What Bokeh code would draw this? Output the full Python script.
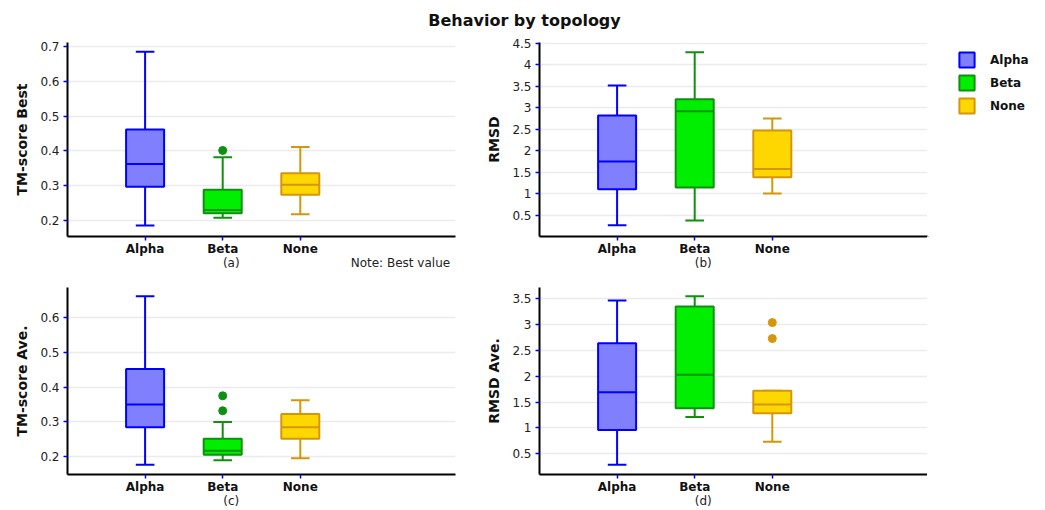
from bokeh.plotting import figure
from bokeh.layouts import column, row
from bokeh.models import (Label, FixedTicker, Legend, LegendItem, ColumnDataSource,
                          LinearAxis)
from bokeh.embed import file_html
from bokeh.resources import INLINE

# ---------------- data ----------------
categories = ["Alpha", "Beta", "None"]
fill_colors = ["#8080ff", "#00ee00", "#ffd700"]
line_colors = ["#0000ff", "#109010", "#d4960a"]

# (a) TM-score Best
a_low = [0.185, 0.207, 0.217]
a_q1 = [0.296, 0.220, 0.273]
a_med = [0.362, 0.229, 0.302]
a_q3 = [0.461, 0.288, 0.335]
a_high = [0.685, 0.381, 0.411]
a_out_cat = ["Beta"]
a_out_val = [0.401]
a_ticks = [0.2, 0.3, 0.4, 0.5, 0.6, 0.7]
a_tick_labels = ["0.2", "0.3", "0.4", "0.5", "0.6", "0.7"]

# (b) RMSD
b_low = [0.26, 0.37, 1.00]
b_q1 = [1.10, 1.14, 1.38]
b_med = [1.75, 2.92, 1.57]
b_q3 = [2.82, 3.20, 2.47]
b_high = [3.52, 4.29, 2.75]
b_out_cat = []
b_out_val = []
b_ticks = [0.5, 1, 1.5, 2, 2.5, 3, 3.5, 4, 4.5]
b_tick_labels = ["0.5", "1", "1.5", "2", "2.5", "3", "3.5", "4", "4.5"]

# (c) TM-score Ave.
c_low = [0.177, 0.190, 0.196]
c_q1 = [0.285, 0.206, 0.252]
c_med = [0.350, 0.217, 0.285]
c_q3 = [0.452, 0.252, 0.323]
c_high = [0.661, 0.300, 0.362]
c_out_cat = ["Beta", "Beta"]
c_out_val = [0.375, 0.332]
c_ticks = [0.2, 0.3, 0.4, 0.5, 0.6]
c_tick_labels = ["0.2", "0.3", "0.4", "0.5", "0.6"]

# (d) RMSD Ave.
d_low = [0.285, 1.21, 0.73]
d_q1 = [0.96, 1.38, 1.28]
d_med = [1.69, 2.03, 1.45]
d_q3 = [2.64, 3.35, 1.72]
d_high = [3.47, 3.55, 1.72]
d_out_cat = ["None", "None"]
d_out_val = [3.04, 2.73]
d_ticks = [0.5, 1, 1.5, 2, 2.5, 3, 3.5]
d_tick_labels = ["0.5", "1", "1.5", "2", "2.5", "3", "3.5"]

FONT = "DejaVu Sans"
BOX_W = 0.49
CAP_W = 0.24
SUB_X = 2.11      # position of the "(a)".."(d)" captions (x data units)
NOTE_X = 4.29     # centre of the "Note" caption (x data units)


def make_panel(ylabel, low, q1, med, q3, high, out_cat, out_val, yrange,
               ticks, tick_labels, width, height, border_left, border_top,
               border_bottom, border_right, sublabel, note=None):
    xs = [i + 1 for i in range(len(categories))]
    src = ColumnDataSource(dict(
        x=xs, low=low, q1=q1, med=med, q3=q3, high=high,
        left=[x - BOX_W / 2 for x in xs], right=[x + BOX_W / 2 for x in xs],
        cl=[x - CAP_W / 2 for x in xs], cr=[x + CAP_W / 2 for x in xs],
        fill=fill_colors, line=line_colors,
    ))
    p = figure(width=width, height=height, x_range=(0, 5), y_range=yrange,
               toolbar_location=None, output_backend="svg", title=None,
               min_border_left=border_left, min_border_right=border_right,
               min_border_top=border_top, min_border_bottom=border_bottom)
    p.outline_line_color = None
    p.xgrid.visible = False
    p.ygrid.grid_line_color = "#ebebeb"
    p.ygrid.grid_line_width = 1.5
    p.ygrid.ticker = FixedTicker(ticks=ticks)

    p.xaxis.ticker = FixedTicker(ticks=xs)
    p.xaxis.major_label_overrides = {x: c for x, c in zip(xs, categories)}
    p.yaxis.ticker = FixedTicker(ticks=ticks)
    p.yaxis.major_label_overrides = {t: l for t, l in zip(ticks, tick_labels)}

    for ax in (p.xaxis[0], p.yaxis[0]):
        ax.axis_line_color = "black"
        ax.axis_line_width = 2
        ax.major_tick_line_color = "blue"
        ax.major_tick_line_width = 1.5
        ax.major_tick_in = 0
        ax.major_tick_out = 4
        ax.minor_tick_line_color = None
        ax.major_label_text_font = FONT
        ax.major_label_standoff = 4
    p.xaxis.major_label_text_font_style = "bold"
    p.xaxis.major_label_text_font_size = "12px"
    p.xaxis.major_label_text_color = "#111111"
    p.xaxis.major_label_standoff = 1
    p.yaxis.major_label_text_font_size = "12px"
    p.yaxis.major_label_text_color = "#222222"
    p.yaxis.axis_label = ylabel
    p.yaxis.axis_label_text_font = FONT
    p.yaxis.axis_label_text_font_style = "bold"
    p.yaxis.axis_label_text_font_size = "14px"
    p.yaxis.axis_label_text_color = "#111111"
    p.yaxis.axis_label_standoff = 7

    # caption axis: "(a)" etc. and the optional note
    cap_ticks = [SUB_X] + ([NOTE_X] if note else [])
    cap_labels = [sublabel] + ([note] if note else [])
    cap = LinearAxis(ticker=FixedTicker(ticks=cap_ticks),
                     major_label_overrides={t: l for t, l in zip(cap_ticks, cap_labels)},
                     axis_line_color=None, major_tick_line_color=None,
                     minor_tick_line_color=None, major_tick_in=0, major_tick_out=0,
                     major_label_standoff=-3, major_label_text_font=FONT,
                     major_label_text_font_size="12px",
                     major_label_text_color="#222222")
    p.add_layout(cap, "below")

    # whiskers
    p.segment(x0="x", y0="q3", x1="x", y1="high", line_color="line", line_width=2, source=src)
    p.segment(x0="x", y0="low", x1="x", y1="q1", line_color="line", line_width=2, source=src)
    p.segment(x0="cl", y0="high", x1="cr", y1="high", line_color="line", line_width=2, source=src)
    p.segment(x0="cl", y0="low", x1="cr", y1="low", line_color="line", line_width=2, source=src)
    # boxes
    p.vbar(x="x", width=BOX_W, bottom="q1", top="q3", fill_color="fill",
           line_color="line", line_width=2, source=src)
    # medians
    p.segment(x0="left", y0="med", x1="right", y1="med", line_color="line", line_width=2, source=src)
    # outliers
    if out_val:
        ox = [categories.index(c) + 1 for c in out_cat]
        oc = [line_colors[categories.index(c)] for c in out_cat]
        p.scatter(x=ox, y=out_val, size=8, color=oc)
    return p


TITLE_H = 36
H_TOP = 247
H_BOT = 227
W_L = 480          # left column figure: border 67 + frame 388 + 25
W_R = 447          # right column figure: border 59 + frame 388
W_LEG = 110

pa = make_panel("TM-score Best", a_low, a_q1, a_med, a_q3, a_high, a_out_cat, a_out_val,
                (0.153, 0.712), a_ticks, a_tick_labels, W_L, H_TOP, 67, 6, 47, 25,
                "(a)", note="Note: Best value")
pb = make_panel("RMSD", b_low, b_q1, b_med, b_q3, b_high, b_out_cat, b_out_val,
                (0.0, 4.52), b_ticks, b_tick_labels, W_R, H_TOP, 59, 6, 47, 0, "(b)")
pc = make_panel("TM-score Ave.", c_low, c_q1, c_med, c_q3, c_high, c_out_cat, c_out_val,
                (0.149, 0.686), c_ticks, c_tick_labels, W_L, H_BOT, 67, 4, 33, 25, "(c)")
pd_ = make_panel("RMSD Ave.", d_low, d_q1, d_med, d_q3, d_high, d_out_cat, d_out_val,
                 (0.095, 3.72), d_ticks, d_tick_labels, W_R, H_BOT, 59, 4, 33, 0, "(d)")

# legend figure (swatches come from hidden box renderers, outside the visible range)
pleg = figure(width=W_LEG, height=H_TOP, x_range=(100, 101), y_range=(100, 101),
              toolbar_location=None, output_backend="svg", title=None,
              x_axis_location=None, y_axis_location=None, min_border=0)
pleg.outline_line_color = None
pleg.grid.visible = False
leg_src = ColumnDataSource(dict(x=[i + 1 for i in range(len(categories))],
                                top=b_q3, bottom=b_q1, fill=fill_colors, line=line_colors))
leg_r = pleg.vbar(x="x", width=0.5, top="top", bottom="bottom", fill_color="fill",
                  line_color="line", line_width=2, source=leg_src)
legend = Legend(items=[LegendItem(label=c, renderers=[leg_r], index=i)
                       for i, c in enumerate(categories)],
                location=(30, 121), margin=0, padding=0,
                glyph_width=19, glyph_height=19, label_height=19, spacing=4,
                label_standoff=14, border_line_color=None,
                background_fill_alpha=0,
                label_text_font=FONT, label_text_font_style="bold",
                label_text_font_size="12px", label_text_color="#111111")
pleg.add_layout(legend, "center")

ptitle = figure(width=1040, height=TITLE_H, x_range=(0, 1040), y_range=(TITLE_H, 0),
                toolbar_location=None, output_backend="svg", title=None,
                x_axis_location=None, y_axis_location=None, min_border=0)
ptitle.outline_line_color = None
ptitle.grid.visible = False
ptitle.add_layout(Label(x=524, y=20, text="Behavior by topology", text_align="center",
                        text_baseline="middle", text_font=FONT, text_font_style="bold",
                        text_font_size="16px", text_color="#111111"))

layout = column(ptitle, row(pa, pb, pleg), row(pc, pd_))
open("out.html", "w").write(file_html(layout, INLINE))
